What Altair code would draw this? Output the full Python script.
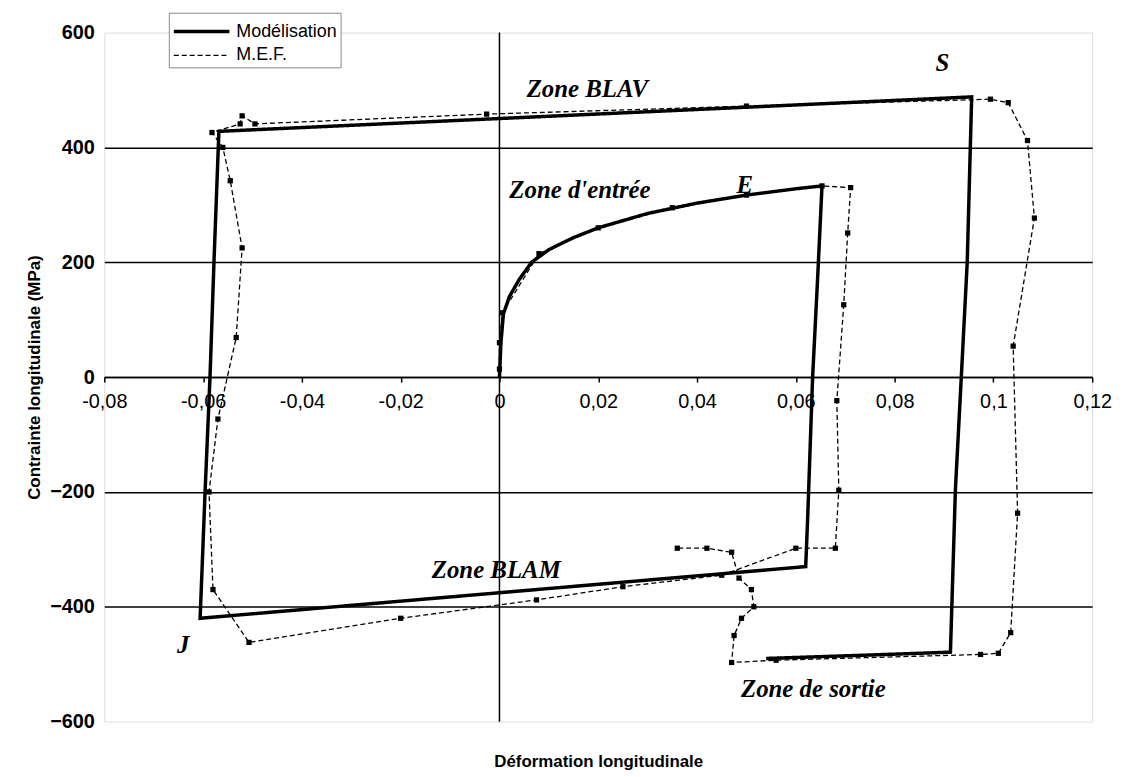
import altair as alt
import pandas as pd

# ---------------- data ----------------
# Modélisation (solid curve), path order
mod_x = [0.0, 0.0003, 0.0008, 0.002, 0.004, 0.0065, 0.01, 0.015, 0.02, 0.03, 0.04, 0.05, 0.06, 0.0653,
         0.0644, 0.0634, 0.0624, 0.062,
         -0.0606,
         -0.0596, -0.0586, -0.0578, -0.0568,
         0.0956,
         0.0947, 0.0935, 0.0923, 0.0913,
         0.075, 0.054]
mod_y = [0, 60, 110, 140, 170, 200, 222, 243, 260, 285, 303, 317, 328, 333,
         170, 0, -245, -330,
         -420,
         -200, 0, 200, 428,
         488,
         200, 0, -197, -479,
         -484, -490]

# M.E.F. (dashed with square markers), path order
mef_x = [0.0, 0.0, 0.0006, 0.008, 0.02, 0.035, 0.05, 0.0653, 0.0711,
         0.0705, 0.0697, 0.0683, 0.0687, 0.068, 0.060,
         0.045, 0.025, 0.0075, -0.02, -0.0507,
         -0.058, -0.0588, -0.057, -0.0533, -0.0521, -0.0545, -0.0560, -0.0582,
         -0.0525, -0.0521, -0.0495, -0.0026, 0.05, 0.0994, 0.103,
         0.1069, 0.1083, 0.104, 0.1049, 0.1035, 0.101, 0.0974, 0.056, 0.047,
         0.0475, 0.049, 0.0515, 0.051, 0.0485, 0.047, 0.042, 0.036]
mef_y = [14, 60, 112, 215, 260, 295, 317, 333, 330,
         251, 126, -41, -197, -298, -298,
         -345, -365, -388, -420, -462,
         -370, -200, -73, 69, 225, 342, 400, 426,
         441, 455, 441, 458, 472, 484, 478,
         412, 277, 54, -237, -445, -481, -483, -493, -497,
         -450, -420, -400, -370, -350, -305, -298, -298]

series_names = ["Modélisation", "M.E.F."]

# annotations (data coordinates)
ann_text = ["Zone BLAV", "Zone d'entrée", "E", "S", "J", "Zone BLAM", "Zone de sortie"]
ann_x = [0.0055, 0.002, 0.048, 0.0883, -0.0653, -0.0137, 0.0489]
ann_y = [502, 325, 334, 547, -467, -336, -543]

x_ticks = [-0.08, -0.06, -0.04, -0.02, 0, 0.02, 0.04, 0.06, 0.08, 0.1, 0.12]
y_ticks = [-600, -400, -200, 0, 200, 400, 600]

# ---------------- frames ----------------
rows = []
for i, (x, y) in enumerate(zip(mod_x, mod_y)):
    rows.append({"series": series_names[0], "i": i, "x": x, "y": y})
for i, (x, y) in enumerate(zip(mef_x, mef_y)):
    rows.append({"series": series_names[1], "i": i, "x": x, "y": y})
df = pd.DataFrame(rows)
mef_df = df[df.series == series_names[1]]
ann_df = pd.DataFrame({"text": ann_text, "x": ann_x, "y": ann_y})

W, H = 995, 694
xscale = alt.Scale(domain=[-0.08, 0.12], nice=False, zero=False)
yscale = alt.Scale(domain=[-600, 600], nice=False)

SANS = "Liberation Sans, Arial, sans-serif"

x_axis = alt.Axis(
    values=x_ticks, offset=-H / 2, grid=False,
    labelExpr="replace(toString(datum.value), '.', ',')",
    labelFont=SANS, labelFontSize=20, labelColor="black",
    labelPadding=10, labelOverlap=False, labelFlush=False,
    tickColor="black", tickSize=5, tickWidth=1.5,
    domainColor="black", domainWidth=1.5,
    title="Déformation longitudinale", titleFont=SANS,
    titleFontSize=17, titleFontWeight="bold", titleColor="black",
    titleX=W / 2, titleY=387, titleBaseline="middle", titleAlign="center",
)
y_axis = alt.Axis(
    values=y_ticks, domain=False, ticks=False, grid=True,
    gridColor={"condition": {"test": "abs(datum.value) >= 600", "value": "transparent"},
               "value": "black"},
    gridWidth=1.5,
    labelFont=SANS, labelFontSize=20, labelFontWeight="bold",
    labelColor="black", labelPadding=10,
    title="Contrainte longitudinale (MPa)", titleFont=SANS,
    titleFontSize=17, titleFontWeight="bold", titleColor="black",
    titleAngle=270, titleX=-70, titleY=H / 2, titleAlign="center", titleBaseline="middle",
)

legend_kw = dict(
    title=None, orient="none", legendX=65, legendY=-20,
    fillColor="white", strokeColor="#888", padding=3,
    labelFont=SANS, labelFontSize=18, labelColor="black",
    symbolType="M-1,0L3,0", symbolSize=784, symbolStrokeColor="black",
    symbolFillColor="transparent",
    rowPadding=-17, labelOffset=33,
)

base = alt.Chart(df)

lines = base.mark_line(color="black", strokeJoin="miter").encode(
    x=alt.X("x:Q", scale=xscale, axis=x_axis),
    y=alt.Y("y:Q", scale=yscale, axis=y_axis),
    order=alt.Order("i:Q"),
    detail="series:N",
    strokeDash=alt.StrokeDash(
        "series:N",
        scale=alt.Scale(domain=series_names, range=[[1, 0], [5, 3]]),
        legend=alt.Legend(**legend_kw),
    ),
    strokeWidth=alt.StrokeWidth(
        "series:N",
        scale=alt.Scale(domain=series_names, range=[3.5, 1.3]),
        legend=alt.Legend(**legend_kw),
    ),
)

points = alt.Chart(mef_df).mark_point(shape="square", filled=True, color="black",
                                      size=28, opacity=1).encode(
    x=alt.X("x:Q", scale=xscale),
    y=alt.Y("y:Q", scale=yscale),
)

zero_rule = alt.Chart(pd.DataFrame({"x": [0]})).mark_rule(color="black", strokeWidth=1.5).encode(
    x=alt.X("x:Q", scale=xscale)
)

texts = alt.Chart(ann_df).mark_text(
    align="left", baseline="middle", font="Liberation Serif, Times New Roman, serif",
    fontSize=25, fontWeight="bold", fontStyle="italic", color="black",
).encode(
    x=alt.X("x:Q", scale=xscale),
    y=alt.Y("y:Q", scale=yscale),
    text="text:N",
)

chart = alt.layer(zero_rule, lines, points, texts).properties(
    width=W, height=H,
    autosize=alt.AutoSizeParams(type="none"),
    padding={"left": 97, "top": 22, "right": 27, "bottom": 53},
).configure_view(
    stroke="#888", strokeWidth=2, strokeDash=[2, 1]
).configure(background="white")

chart.save("out.html", embed_options={"renderer": "svg", "actions": False})
